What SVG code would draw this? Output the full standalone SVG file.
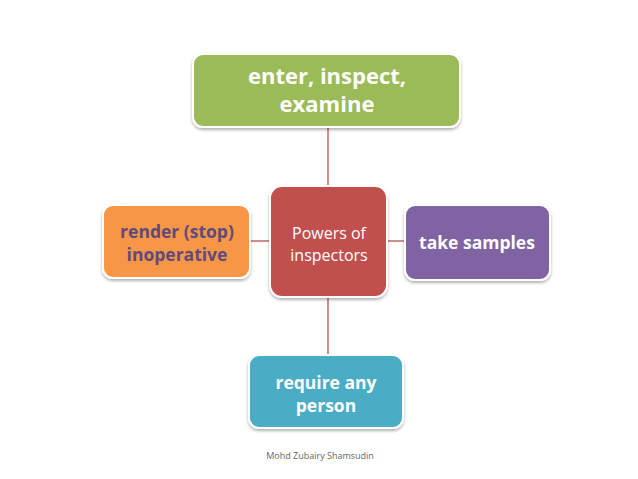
<svg xmlns="http://www.w3.org/2000/svg" width="638" height="479" viewBox="0 0 638 479">
<defs>
<filter id="sh" x="-10%" y="-10%" width="120%" height="130%">
<feDropShadow dx="0" dy="2" stdDeviation="1.5" flood-color="#000" flood-opacity="0.3"/>
</filter>
<style>
.box{stroke:#fff;stroke-width:2;filter:url(#sh)}
.t{font-family:"Open Sans","Liberation Sans",sans-serif;text-anchor:middle}
.b{font-weight:bold;fill:#fff}
.c{stroke:#b5403d;stroke-width:1.2;fill:none}
</style>
</defs>
<rect width="638" height="479" fill="#fff"/>
<g id="connectors">
<line class="c" x1="328" y1="128" x2="328" y2="186"/>
<line class="c" x1="328" y1="297" x2="328" y2="355"/>
<line class="c" x1="250" y1="241" x2="270" y2="241"/>
<line class="c" x1="387" y1="241" x2="405" y2="241"/>
</g>
<g id="n-enter">
<rect class="box" x="193" y="54" width="267" height="73" rx="10" fill="#9bbb59"/>
<text class="t b" x="327" y="84" font-size="22">enter, inspect,</text>
<text class="t b" x="327" y="112" font-size="22">examine</text>
</g>
<g id="n-render">
<rect class="box" x="103" y="205" width="147" height="73" rx="10" fill="#f79646"/>
<text class="t" x="177" y="238" font-size="17.5" font-weight="bold" fill="#604a7b">render (stop)</text>
<text class="t" x="177" y="261" font-size="17.5" font-weight="bold" fill="#604a7b">inoperative</text>
</g>
<g id="n-powers">
<rect class="box" x="270" y="186" width="117" height="111" rx="12" fill="#c0504d"/>
<text class="t" x="329" y="239" font-size="16" fill="#fff">Powers of</text>
<text class="t" x="329" y="261" font-size="16" fill="#fff">inspectors</text>
</g>
<g id="n-take">
<rect class="box" x="405" y="205" width="145" height="75" rx="10" fill="#8064a2"/>
<text class="t b" x="477" y="249" font-size="17.5">take samples</text>
</g>
<g id="n-require">
<rect class="box" x="249" y="355" width="154" height="73" rx="10" fill="#4bacc6"/>
<text class="t b" x="326" y="389" font-size="17.5">require any</text>
<text class="t b" x="326" y="412" font-size="17.5">person</text>
</g>
<text class="t" x="320" y="459" font-size="9" fill="#666">Mohd Zubairy Shamsudin</text>
</svg>
